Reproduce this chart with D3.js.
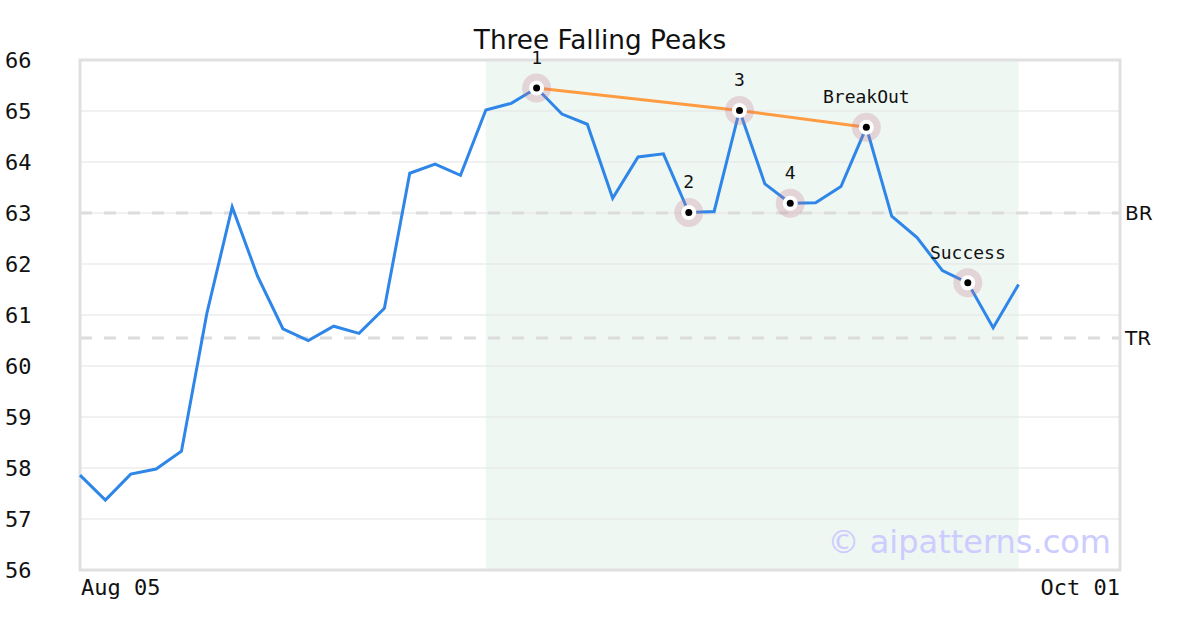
<!DOCTYPE html>
<html><head><meta charset="utf-8">
<script src="https://cdn.jsdelivr.net/npm/d3@7"></script>
<style>body{margin:0;background:#fff}svg{display:block}</style>
</head><body>
<svg id="c" width="1200" height="630"></svg>
<script>
const title = "Three Falling Peaks";
const values = [57.86,57.37,57.88,57.98,58.33,61.03,63.12,61.76,60.73,60.50,60.78,60.64,61.13,63.78,63.96,63.74,65.02,65.15,65.45,64.94,64.74,63.29,64.10,64.16,63.01,63.03,65.01,63.57,63.19,63.20,63.52,64.68,62.94,62.52,61.87,61.63,60.75,61.60];
const xDomain = [0, 41];
const xTickIdx = [0, 41];
const xTickLabels = ["Aug 05", "Oct 01"];
const yTicks = [56,57,58,59,60,61,62,63,64,65,66];
const shadeRange = [16, 37];
const markerIdx = [18, 24, 26, 28, 31, 35];
const markerLabels = ["1", "2", "3", "4", "BreakOut", "Success"];
const trendIdx = [18, 26, 31];
const levelNames = ["BR", "TR"];
const levelValues = [63.0, 60.55];
const watermark = "© aipatterns.com";

const svg = d3.select("#c");
const L = 80, R = 1120, T = 60, B = 570;
const x = d3.scaleLinear().domain(xDomain).range([L, R]);
const y = d3.scaleLinear().domain([56, 66]).range([B, T]);

// shaded region
svg.append("rect").attr("x", x(shadeRange[0])).attr("y", T)
  .attr("width", x(shadeRange[1]) - x(shadeRange[0])).attr("height", B - T)
  .attr("fill", "#eff7f3");

// grid
svg.append("g").selectAll("line").data(yTicks).join("line")
  .attr("x1", L).attr("x2", R).attr("y1", d => y(d)).attr("y2", d => y(d))
  .attr("stroke", "#e3e3e3").attr("stroke-width", 1);

// y tick labels
svg.append("g").selectAll("text").data(yTicks).join("text")
  .attr("x", 5).attr("y", d => y(d)).attr("dy", "0.36em")
  .attr("font-family", "DejaVu Sans Mono").attr("font-size", 22).attr("fill", "#111")
  .text(d => d);

// x tick labels
svg.append("g").selectAll("text").data(xTickIdx).join("text")
  .attr("x", (d, i) => i === 0 ? x(d) + 1 : x(d)).attr("y", 595)
  .attr("text-anchor", (d, i) => i === 0 ? "start" : "end")
  .attr("font-family", "DejaVu Sans Mono").attr("font-size", 22).attr("fill", "#111")
  .text((d, i) => xTickLabels[i]);

// watermark
svg.append("text").attr("x", 1111).attr("y", 553).attr("text-anchor", "end")
  .attr("font-family", "DejaVu Sans").attr("font-size", 32).attr("fill", "#ccccff")
  .text(watermark);

// level lines
levelValues.forEach((v, i) => {
  svg.append("line").attr("x1", L).attr("x2", R).attr("y1", y(v)).attr("y2", y(v))
    .attr("stroke", "#dcdcdc").attr("stroke-width", 3).attr("stroke-dasharray", "12,12");
  svg.append("text").attr("x", R + 5).attr("y", y(v)).attr("dy", "0.36em")
    .attr("font-family", "DejaVu Sans").attr("font-size", 20).attr("fill", "#111")
    .text(levelNames[i]);
});

// frame
svg.append("rect").attr("x", L).attr("y", T).attr("width", R - L).attr("height", B - T)
  .attr("fill", "none").attr("stroke", "#e0e0e0").attr("stroke-width", 3);

// price line
const line = d3.line().x((d, i) => x(i)).y(d => y(d));
svg.append("path").datum(values).attr("d", line)
  .attr("fill", "none").attr("stroke", "#2e86e8").attr("stroke-width", 3)
  .attr("stroke-linejoin", "miter");

// trend line
svg.append("path").datum(trendIdx)
  .attr("d", d3.line().x(d => x(d)).y(d => y(values[d])))
  .attr("fill", "none").attr("stroke", "#ff9c42").attr("stroke-width", 3);

// markers
const mg = svg.append("g").selectAll("g").data(markerIdx).join("g")
  .attr("transform", d => `translate(${x(d)},${y(values[d])})`);
mg.append("circle").attr("r", 14.5).attr("fill", "rgba(195,120,140,0.27)");
mg.append("circle").attr("r", 7.5).attr("fill", "#fff");
mg.append("circle").attr("r", 3.5).attr("fill", "#000");
mg.append("text").attr("y", -24).attr("text-anchor", "middle")
  .attr("font-family", "DejaVu Sans Mono").attr("font-size", 18).attr("fill", "#111")
  .text((d, i) => markerLabels[i]);

// title
svg.append("text").attr("x", 600).attr("y", 49).attr("text-anchor", "middle")
  .attr("font-family", "DejaVu Sans").attr("font-size", 26.3).attr("fill", "#111")
  .text(title);
</script>
</body></html>
